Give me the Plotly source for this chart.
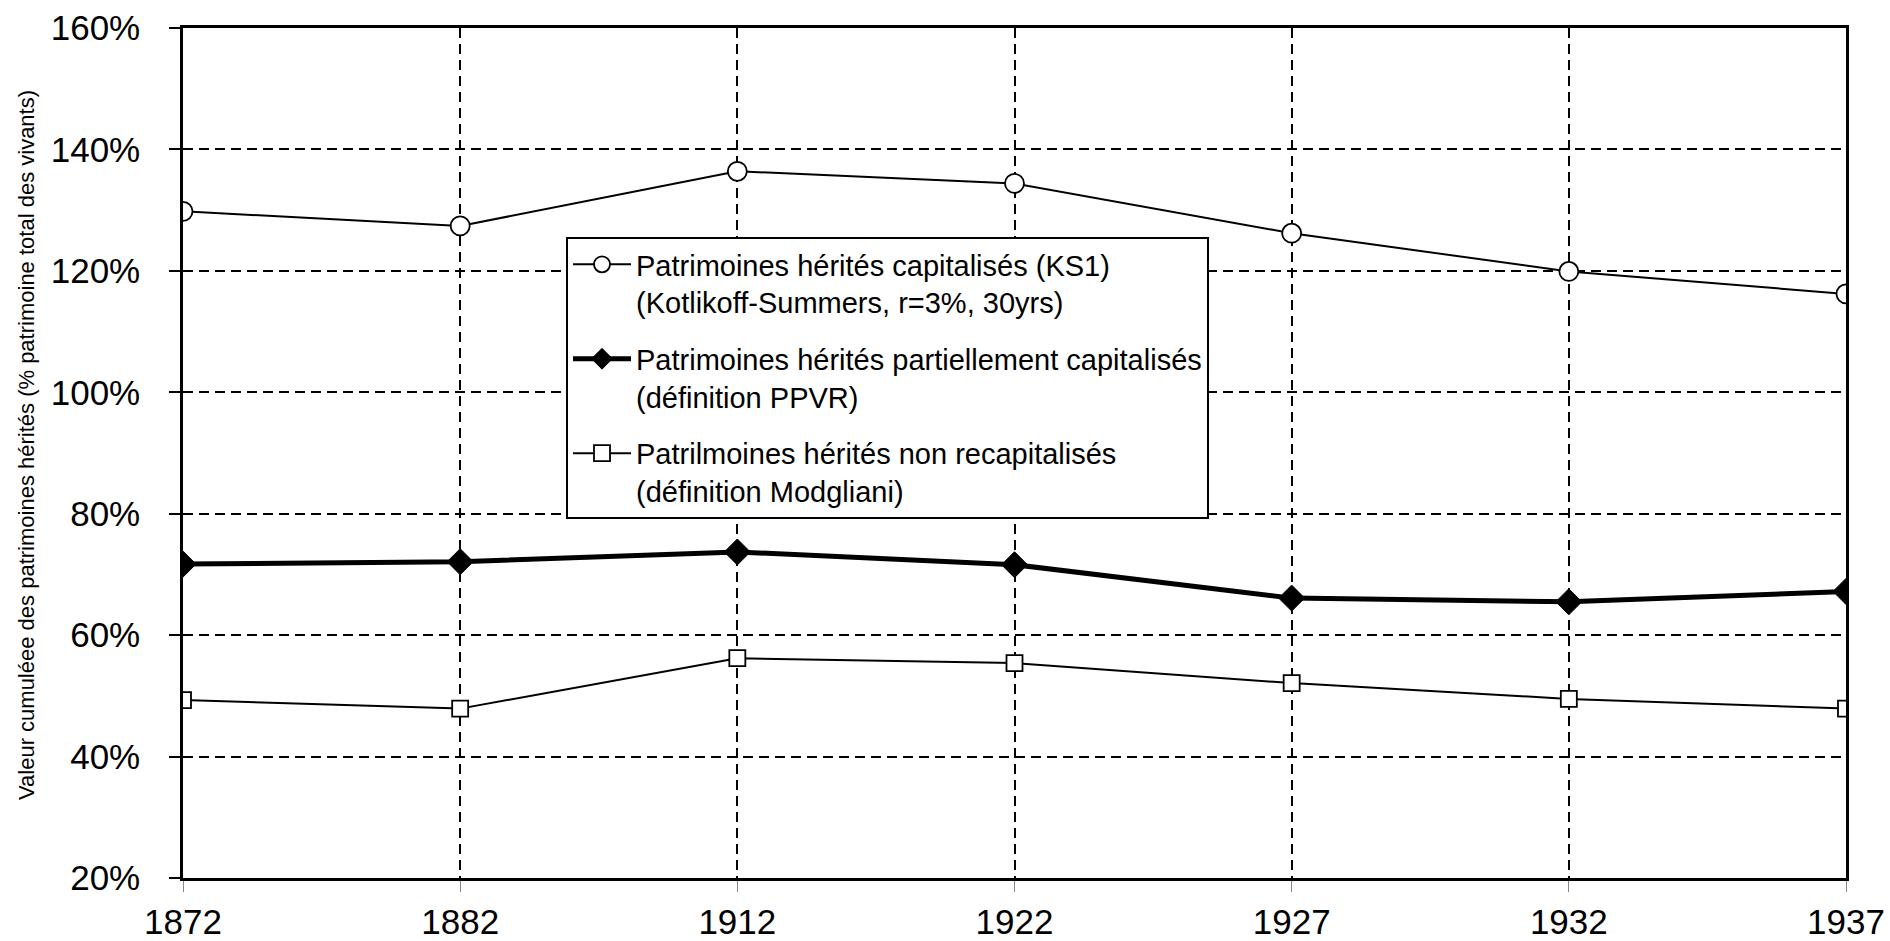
import plotly.graph_objects as go

years = ["1872", "1882", "1912", "1922", "1927", "1932", "1937"]
ks1 = [129.8, 127.4, 136.4, 134.4, 126.2, 119.9, 116.2]
ppvr = [71.7, 72.1, 73.7, 71.6, 66.1, 65.5, 67.2]
modigliani = [49.3, 47.9, 56.2, 55.4, 52.1, 49.5, 47.9]

names = [
    "Patrimoines hérités capitalisés (KS1)<br>(Kotlikoff-Summers, r=3%, 30yrs)",
    "Patrimoines hérités partiellement capitalisés<br>(définition PPVR)",
    "Patrilmoines hérités non recapitalisés<br>(définition Modgliani)",
]
y_title = "Valeur cumuléee des patrimoines hérités (% patrimoine total des vivants)"
y_ticks = [20, 40, 60, 80, 100, 120, 140, 160]

FONT = "Liberation Sans, Arial, sans-serif"

fig = go.Figure()
fig.add_trace(go.Scatter(
    x=years, y=ks1, name=names[0], mode="lines+markers", legendgroup="a",
    line=dict(color="black", width=2),
    marker=dict(symbol="circle", size=19, color="white", line=dict(color="black", width=1.8)),
))
fig.add_trace(go.Scatter(
    x=years, y=ppvr, name=names[1], mode="lines+markers", legendgroup="b",
    line=dict(color="black", width=5),
    marker=dict(symbol="diamond", size=20, color="black", line=dict(color="black", width=1)),
))
fig.add_trace(go.Scatter(
    x=years, y=modigliani, name=names[2], mode="lines+markers", legendgroup="c",
    line=dict(color="black", width=2),
    marker=dict(symbol="square", size=16, color="white", line=dict(color="black", width=1.8)),
))

fig.update_layout(
    width=1890, height=941,
    margin=dict(l=183, r=44, t=28, b=63, autoexpand=False),
    paper_bgcolor="white", plot_bgcolor="white",
    font=dict(family=FONT, color="black"),
    showlegend=True,
    legend=dict(
        x=(566 - 183) / 1663, y=(878 - 237) / 850, xanchor="left", yanchor="top",
        bgcolor="white", bordercolor="black", borderwidth=2,
        font=dict(size=29, family=FONT, color="black"),
        tracegroupgap=16, valign="top", itemwidth=58,
    ),
    annotations=[dict(
        text=y_title, textangle=-90, showarrow=False,
        xref="paper", yref="paper", x=-(183 - 26) / 1663, y=(878 - 445) / 850,
        xanchor="center", yanchor="middle",
        font=dict(size=22, family=FONT, color="black"),
    )],
)

fig.update_xaxes(
    type="category", range=[0, 6], automargin=False,
    showgrid=True, gridcolor="black", gridwidth=2, griddash="10px,6px",
    showline=True, linecolor="black", linewidth=2.5, mirror=True,
    ticks="outside", ticklen=11, tickcolor="#888888", tickwidth=1,
    tickfont=dict(size=35, family=FONT, color="black"),
    ticklabelstandoff=0,
    zeroline=False,
)
fig.update_yaxes(
    range=[20, 160], tickvals=y_ticks, ticktext=[f"{v}%" for v in y_ticks],
    automargin=False,
    showgrid=True, gridcolor="black", gridwidth=2, griddash="10px,6px",
    showline=True, linecolor="black", linewidth=2.5, mirror=True,
    ticks="outside", ticklen=11, tickcolor="black", tickwidth=2,
    tickfont=dict(size=35, family=FONT, color="black"),
    ticklabelstandoff=22,
    zeroline=False,
)

fig.write_html(
    "out.html",
    config={"displayModeBar": False},
    post_script="document.body.style.margin='0';document.body.style.overflow='hidden';",
)
